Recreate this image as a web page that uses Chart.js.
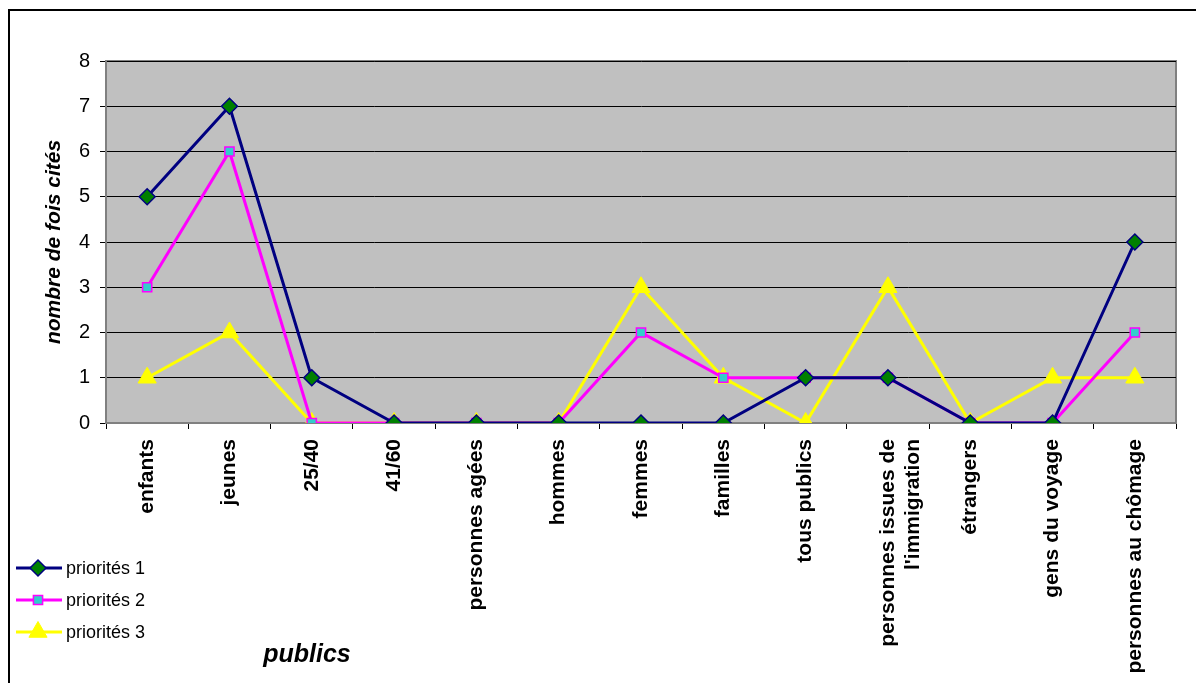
<!DOCTYPE html>
<html>
<head>
<meta charset="utf-8">
<script src="https://cdn.jsdelivr.net/npm/chart.js@4/dist/chart.umd.min.js"></script>
<style>
  html, body { margin: 0; padding: 0; background: #fff; }
  #wrap { width: 1196px; height: 683px; position: relative; }
</style>
</head>
<body>
<div id="wrap"><canvas id="lineCanvas"></canvas></div>
<script>
// publics cités
var categories = ['enfants', 'jeunes', '25/40', '41/60', 'personnes agées', 'hommes', 'femmes',
  'familles', 'tous publics', ['personnes issues de', "l'immigration"], 'étrangers',
  'gens du voyage', 'personnes au chômage'];
var priorites1 = [5, 7, 1, 0, 0, 0, 0, 0, 1, 1, 0, 0, 4];
var priorites2 = [3, 6, 0, 0, 0, 0, 2, 1, 1, 1, 0, 0, 2];
var priorites3 = [1, 2, 0, 0, 0, 0, 3, 1, 0, 3, 0, 1, 1];
var seriesNames = ['priorités 1', 'priorités 2', 'priorités 3'];
var yTicks = [0, 1, 2, 3, 4, 5, 6, 7, 8];

var FONT = 'Arial, "Liberation Sans", sans-serif';

// fond gris + cadre + légende + titre "publics"
var decor = {
  id: 'decor',
  beforeDraw: function (chart) {
    var ctx = chart.ctx, a = chart.chartArea;
    ctx.save();
    ctx.fillStyle = '#ffffff';
    ctx.fillRect(0, 0, chart.width, chart.height);
    ctx.strokeStyle = '#000';
    ctx.lineWidth = 2;
    ctx.strokeRect(9, 10, 1400, 900);
    ctx.fillStyle = '#c0c0c0';
    ctx.fillRect(a.left, a.top, a.right - a.left, a.bottom - a.top);
    ctx.strokeStyle = '#808080';
    ctx.lineWidth = 2;
    ctx.beginPath();
    ctx.moveTo(a.left, a.top);
    ctx.lineTo(a.right, a.top);
    ctx.lineTo(a.right, a.bottom);
    ctx.stroke();
    ctx.restore();
  },
  afterDraw: function (chart) {
    var ctx = chart.ctx;
    ctx.save();
    chart.data.datasets.forEach(function (ds, i) {
      var y = 568 + i * 32;
      ctx.strokeStyle = ds.borderColor;
      ctx.lineWidth = 3;
      ctx.beginPath();
      ctx.moveTo(16, y);
      ctx.lineTo(62, y);
      ctx.stroke();
      ctx.fillStyle = ds.pointBackgroundColor;
      ctx.strokeStyle = ds.pointBorderColor;
      ctx.lineWidth = ds.pointBorderWidth;
      Chart.helpers.drawPoint(ctx, {
        pointStyle: ds.pointStyle, radius: ds.pointRadius, borderWidth: ds.pointBorderWidth
      }, 38, y);
      ctx.fillStyle = '#000';
      ctx.font = '18px ' + FONT;
      ctx.textBaseline = 'middle';
      ctx.textAlign = 'left';
      ctx.fillText(ds.label, 66, y + 1);
    });
    ctx.font = 'italic bold 25px ' + FONT;
    ctx.textAlign = 'center';
    ctx.fillText('publics', 307, 655);
    ctx.restore();
  }
};

var ctx = document.getElementById('lineCanvas').getContext('2d');
var myLineChart = new Chart(ctx, {
  type: 'line',
  data: {
    labels: categories,
    datasets: [{
      label: seriesNames[0],
      data: priorites1,
      borderColor: '#000080',
      borderWidth: 3,
      pointStyle: 'rectRot',
      pointRadius: 8,
      pointHoverRadius: 8,
      pointBackgroundColor: '#008000',
      pointBorderColor: '#000080',
      pointBorderWidth: 1.5
    }, {
      label: seriesNames[1],
      data: priorites2,
      borderColor: '#ff00ff',
      borderWidth: 3,
      pointStyle: 'rect',
      pointRadius: 6.5,
      pointHoverRadius: 6.5,
      pointBackgroundColor: '#33cccc',
      pointBorderColor: '#ff00ff',
      pointBorderWidth: 1.5
    }, {
      label: seriesNames[2],
      data: priorites3,
      borderColor: '#ffff00',
      borderWidth: 3,
      pointStyle: 'triangle',
      pointRadius: 10.5,
      pointHoverRadius: 10.5,
      pointBackgroundColor: '#ffff00',
      pointBorderColor: '#ffff00',
      pointBorderWidth: 1
    }]
  },
  options: {
    responsive: true,
    maintainAspectRatio: false,
    animation: false,
    events: [],
    layout: { padding: { top: 61, right: 20, left: 0, bottom: 0 } },
    plugins: {
      legend: { display: false },
      tooltip: { enabled: false }
    },
    scales: {
      x: {
        offset: true,
        afterFit: function (s) { s.height = 260; },
        grid: { offset: true, drawOnChartArea: false, drawTicks: true, tickLength: 6, color: '#000' },
        border: { color: '#808080', width: 2 },
        ticks: {
          minRotation: 90, maxRotation: 90, autoSkip: false, padding: 10,
          color: '#000', font: { family: FONT, size: 21, weight: 'bold' }
        }
      },
      y: {
        min: 0, max: 8,
        afterFit: function (s) { s.width = 106; },
        afterBuildTicks: function (s) { s.ticks = yTicks.map(function (v) { return { value: v }; }); },
        grid: { color: '#000', lineWidth: 1, tickLength: 6, drawTicks: true },
        border: { color: '#808080', width: 2 },
        ticks: { color: '#000', padding: 10, font: { family: FONT, size: 20 } },
        title: {
          display: true, text: 'nombre de fois cités', color: '#000',
          padding: { top: 42, bottom: 0 },
          font: { family: FONT, size: 21, weight: 'bold', style: 'italic' }
        }
      }
    }
  },
  plugins: [decor]
});
</script>
</body>
</html>
